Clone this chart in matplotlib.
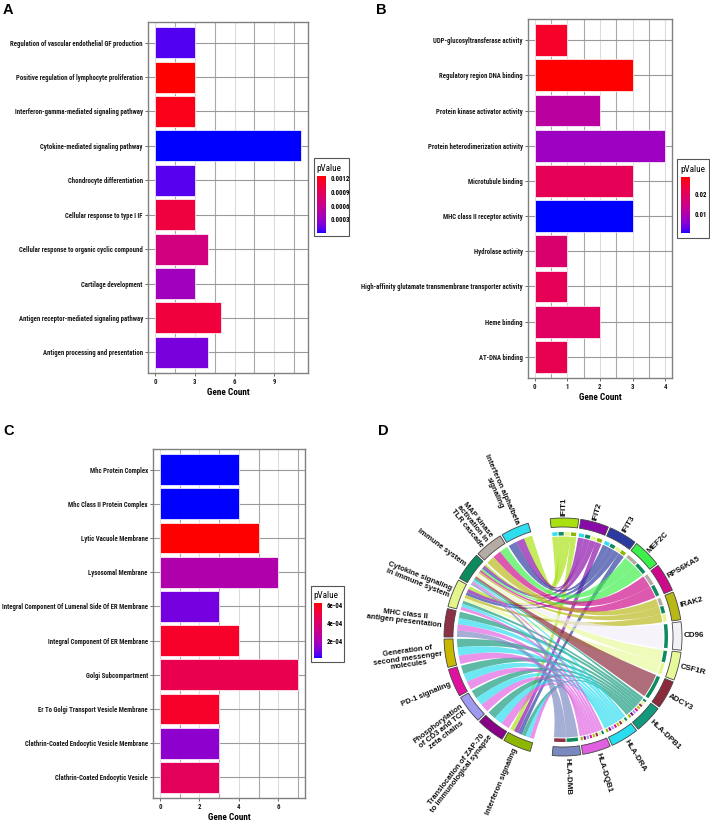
import numpy as np
import matplotlib
matplotlib.use("Agg")
import matplotlib.pyplot as plt
from matplotlib.colors import ListedColormap, Normalize
from matplotlib.patches import Rectangle, PathPatch, Polygon
from matplotlib.path import Path
from matplotlib import font_manager as fm
from matplotlib.font_manager import FontProperties
from matplotlib.textpath import TextPath
from matplotlib.cm import ScalarMappable

# ---------------- data ----------------
a_terms = ["Regulation of vascular endothelial GF production",
           "Positive regulation of lymphocyte proliferation",
           "Interferon-gamma-mediated signaling pathway",
           "Cytokine-mediated signaling pathway",
           "Chondrocyte differentiation",
           "Cellular response to type I IF",
           "Cellular response to organic cyclic compound",
           "Cartilage development",
           "Antigen receptor-mediated signaling pathway",
           "Antigen processing and presentation"]
a_counts = [3, 3, 3, 11, 3, 3, 4, 3, 5, 4]
a_pvals = [0.00008, 0.00124, 0.00118, 0.000005, 0.00009, 0.00102, 0.00068, 0.00035, 0.00103, 0.00018]
a_xticks = [0, 3, 6, 9]
a_cticks = [0.0003, 0.0006, 0.0009, 0.0012]
a_cticklabels = ["0.0003", "0.0006", "0.0009", "0.0012"]

b_terms = ["UDP-glucosyltransferase activity",
           "Regulatory region DNA binding",
           "Protein kinase activator activity",
           "Protein heterodimerization activity",
           "Microtubule binding",
           "MHC class II receptor activity",
           "Hydrolase activity",
           "High-affinity glutamate transmembrane transporter activity",
           "Heme binding",
           "AT-DNA binding"]
b_counts = [1, 3, 2, 4, 3, 3, 1, 1, 2, 1]
b_pvals = [0.0257, 0.0285, 0.0118, 0.0079, 0.0207, 0.0006, 0.0179, 0.0207, 0.0193, 0.0215]
b_xticks = [0, 1, 2, 3, 4]
b_cticks = [0.01, 0.02]
b_cticklabels = ["0.01", "0.02"]

c_terms = ["Mhc Protein Complex",
           "Mhc Class II Protein Complex",
           "Lytic Vacuole Membrane",
           "Lysosomal Membrane",
           "Integral Component Of Lumenal Side Of ER Membrane",
           "Integral Component Of ER Membrane",
           "Golgi Subcompartment",
           "Er To Golgi Transport Vesicle Membrane",
           "Clathrin-Coated Endocytic Vesicle Membrane",
           "Clathrin-Coated Endocytic Vesicle"]
c_counts = [4, 4, 5, 6, 3, 4, 7, 3, 3, 3]
c_pvals = [0.000007, 0.000008, 0.00062, 0.00022, 0.000087, 0.00056, 0.00047, 0.00056, 0.00013, 0.00044]
c_xticks = [0, 2, 4, 6]
c_cticks = [0.0002, 0.0004, 0.0006]
c_cticklabels = ["2e-04", "4e-04", "6e-04"]

# chord diagram
d_genes = ["IFIT1", "IFIT2", "IFIT3", "MEF2C", "RPS6KA5", "IRAK2", "CD96",
           "CSF1R", "ADCY3", "HLA-DPB1", "HLA-DRA", "HLA-DQB1", "HLA-DMB"]
d_gene_colors = ["#A8E010", "#8A0AA8", "#2A3AA0", "#3CF04A", "#CC0A8A", "#B8B818", "#F3F0F8",
                 "#E6FA9A", "#8A2A3A", "#12987A", "#28DDF0", "#E060E0", "#7A88C0"]
d_terms = ["Interferon signaling",
           "Translocation of ZAP-70 to immunological synapse",
           "Phosphorylation of CD3 and TCR zeta chains",
           "PD-1 signaling",
           "Generation of second messenger molecules",
           "MHC class II antigen presentation",
           "Cytokine signaling in immune system",
           "Immune system",
           "MAP kinase activation in TLR cascade",
           "Interferon alpha/beta signaling"]
d_term_labels = ["Interferon signaling",
                 "Translocation of ZAP-70\nto immunological synapse",
                 "Phosphorylation\nof CD3 and TCR\nzeta chains",
                 "PD-1 signaling",
                 "Generation of\nsecond messenger\nmolecules",
                 "MHC class II\nantigen presentation",
                 "Cytokine signaling\nin immune system",
                 "Immune system",
                 "MAP kinase\nactivation in\nTLR cascade",
                 "Interferon alpha/beta\nsignaling"]
d_term_colors = ["#8DB600", "#880088", "#9E9AF0", "#E0119D", "#C9B800",
                 "#8B3045", "#E4F58C", "#0E8A5F", "#B5ABA5", "#2EDDF0"]
HLA_T = ["Interferon signaling", "Translocation of ZAP-70 to immunological synapse",
         "Phosphorylation of CD3 and TCR zeta chains", "PD-1 signaling",
         "Generation of second messenger molecules", "MHC class II antigen presentation",
         "Cytokine signaling in immune system", "Immune system"]
IFIT_T = ["Interferon signaling", "Cytokine signaling in immune system", "Immune system",
          "Interferon alpha/beta signaling"]
MAPK_T = ["Immune system", "MAP kinase activation in TLR cascade"]
d_gene_terms = [IFIT_T, IFIT_T, IFIT_T, MAPK_T, MAPK_T,
                ["Cytokine signaling in immune system", "Immune system", "MAP kinase activation in TLR cascade"],
                ["Immune system"],
                ["Cytokine signaling in immune system", "Immune system"],
                ["Immune system"],
                HLA_T, HLA_T, HLA_T,
                ["MHC class II antigen presentation", "Immune system"]]

# ---------------- fonts ----------------
def _wnum(w):
    if isinstance(w, (int, float)):
        return int(w)
    return fm.weight_dict.get(str(w), 400)

bold_names = {f.name for f in fm.fontManager.ttflist if _wnum(f.weight) >= 700}
NARROW = "Liberation Sans"
for cand in ["Liberation Sans Narrow", "Arial Narrow", "Roboto Condensed", "Archivo Narrow",
             "PT Sans Narrow", "Fira Sans Condensed", "IBM Plex Sans Condensed",
             "Encode Sans Condensed", "Asap Condensed", "Barlow Semi Condensed",
             "Sofia Sans Condensed", "Open Sans Condensed"]:
    if cand in bold_names:
        NARROW = cand
        break
ARIAL = "Liberation Sans"

def fit_size(text, target_px, family, weight):
    tp = TextPath((0, 0), text, size=10, prop=FontProperties(family=family, weight=weight))
    w_px = tp.get_extents().width * 100 / 72
    return 10 * target_px / w_px

LAB_SIZE = fit_size(a_terms[0], 132, NARROW, "bold")
AX_TITLE_SIZE = fit_size("Gene Count", 42, NARROW, "bold")
LEG_TITLE_SIZE = fit_size("pValue", 24, NARROW, "normal")

# ---------------- ggplot-like Lab gradient ----------------
def _srgb_to_lab(rgb):
    c = np.asarray(rgb, float)
    lin = np.where(c <= 0.04045, c / 12.92, ((c + 0.055) / 1.055) ** 2.4)
    M = np.array([[0.4124, 0.3576, 0.1805], [0.2126, 0.7152, 0.0722], [0.0193, 0.1192, 0.9505]])
    xyz = M @ lin / np.array([0.95047, 1.0, 1.08883])
    f = np.where(xyz > 0.008856, np.cbrt(xyz), 7.787 * xyz + 16 / 116)
    return np.array([116 * f[1] - 16, 500 * (f[0] - f[1]), 200 * (f[1] - f[2])])

def _lab_to_srgb(lab):
    L, a, b = lab
    fy_ = (L + 16) / 116
    f = np.array([fy_ + a / 500, fy_, fy_ - b / 200])
    xyz = np.where(f ** 3 > 0.008856, f ** 3, (f - 16 / 116) / 7.787) * np.array([0.95047, 1.0, 1.08883])
    Mi = np.array([[3.2406, -1.5372, -0.4986], [-0.9689, 1.8758, 0.0415], [0.0557, -0.2040, 1.0570]])
    lin = np.clip(Mi @ xyz, 0, 1)
    srgb = np.where(lin <= 0.0031308, 12.92 * lin, 1.055 * lin ** (1 / 2.4) - 0.055)
    return np.clip(srgb, 0, 1)

lo, hi = _srgb_to_lab([0, 0, 1]), _srgb_to_lab([1, 0, 0])
CMAP = ListedColormap([_lab_to_srgb(lo + t * (hi - lo)) for t in np.linspace(0, 1, 256)])

# ---------------- figure ----------------
W, H = 710, 823
fig = plt.figure(figsize=(W / 100, H / 100), dpi=100)
fig.patch.set_facecolor("white")

def fx(px):
    return px / W

def fy(py):
    return 1 - py / H

def bar_panel(box, terms, counts, pvals, xticks, legend_box, cbar_box, cticks, cticklabels):
    l, t, r, b = box
    ax = fig.add_axes([fx(l), fy(b), fx(r) - fx(l), fy(t) - fy(b)])
    n = len(terms)
    ypos = np.arange(n)[::-1]
    norm = Normalize(min(pvals), max(pvals))
    xmax = max(counts)
    ax.set_xlim(-0.05 * xmax, 1.05 * xmax)
    ax.set_ylim(-0.6, n - 0.4)
    step = xticks[1] - xticks[0]
    for xv in xticks + [xticks[-1] + step]:
        ax.axvline(xv, color="#dcdcdc", lw=0.8, zorder=1)
    for xv in np.arange(step / 2, 1.05 * xmax, step):
        ax.axvline(xv, color="#a8a8a8", lw=0.8, zorder=1)
    for yv in ypos:
        ax.axhline(yv, color="#9a9a9a", lw=0.8, zorder=1)
    ax.barh(ypos, counts, height=0.9, color=CMAP(norm(pvals)), edgecolor="white",
            linewidth=0.5, zorder=3)
    ax.set_yticks(ypos)
    ax.set_yticklabels(terms, fontfamily=NARROW, fontweight="bold", fontsize=LAB_SIZE,
                       color="#1a1a1a")
    ax.set_xticks(xticks)
    ax.set_xticklabels([str(v) for v in xticks], fontfamily=NARROW, fontweight="bold",
                       fontsize=LAB_SIZE, color="#1a1a1a")
    ax.tick_params(axis="both", length=2.5, width=0.6, color="#555555", pad=1.2)
    ax.set_xlabel("Gene Count", fontfamily=NARROW, fontweight="bold", fontsize=AX_TITLE_SIZE,
                  labelpad=1.5)
    for s in ax.spines.values():
        s.set_color("#808080")
        s.set_linewidth(1.0)
    # legend
    ll, lt, lr, lb = legend_box
    fig.add_artist(Rectangle((fx(ll), fy(lb)), fx(lr) - fx(ll), fy(lt) - fy(lb),
                             transform=fig.transFigure, fill=False, edgecolor="#555555", lw=0.8))
    cl, ct, cr, cb = cbar_box
    fig.text(fx(cl - 1), fy(ct - 3), "pValue", fontfamily=NARROW, fontsize=LEG_TITLE_SIZE,
             va="bottom", ha="left")
    cax = fig.add_axes([fx(cl), fy(cb), fx(cr) - fx(cl), fy(ct) - fy(cb)])
    cb_ = fig.colorbar(ScalarMappable(norm=norm, cmap=CMAP), cax=cax, ticks=cticks)
    cb_.outline.set_visible(False)
    cb_.set_ticklabels(cticklabels)
    cax.tick_params(length=2, width=0.6, color="white", labelsize=LAB_SIZE, pad=1.5)
    for tl in cax.get_yticklabels():
        tl.set_fontfamily(NARROW)
        tl.set_fontweight("bold")
    return ax

bar_panel((148, 22, 308, 373), a_terms, a_counts, a_pvals, a_xticks,
          (314, 158, 349, 236), (317, 176, 326, 233), a_cticks, a_cticklabels)
bar_panel((528, 19, 672, 378), b_terms, b_counts, b_pvals, b_xticks,
          (677, 159, 709, 238), (681, 177, 690, 233), b_cticks, b_cticklabels)
bar_panel((153, 449, 305, 798), c_terms, c_counts, c_pvals, c_xticks,
          (310.5, 586, 344, 662), (314, 603, 322, 658), c_cticks, c_cticklabels)

for letter, (px, py) in zip("ABCD", [(3, 3), (376, 3), (3, 424), (378, 424)]):
    fig.text(fx(px), fy(py), letter, fontfamily=ARIAL, fontweight="bold", fontsize=10.5,
             va="top", ha="left")

# ---------------- chord diagram ----------------
axd = fig.add_axes([fx(360), fy(823), fx(710) - fx(360), fy(420) - fy(823)])
axd.set_xlim(360, 710)
axd.set_ylim(823, 420)
axd.axis("off")

CX, CY = 563, 637
R_OUT, R_IN = 119, 110
R_GRING_O, R_GRING_I = 105, 101.5
R_GCHORD, R_TCHORD = 100.5, 106
SEC, GAP = 13.8, 1.0
G_START = -6.2
T_START = G_START + len(d_genes) * (SEC + GAP) - GAP + 10.8

def pts(r, ang):
    a = np.deg2rad(ang)
    return np.column_stack([CX + r * np.sin(a), CY - r * np.cos(a)])

def ring(r_in, r_out, a1, a2, color, ec="none", lw=0.0, z=5):
    angs = np.linspace(a1, a2, 40)
    poly = np.vstack([pts(r_out, angs), pts(r_in, angs[::-1])])
    axd.add_patch(Polygon(poly, closed=True, facecolor=color, edgecolor=ec, lw=lw, zorder=z))

gene_start = [G_START + i * (SEC + GAP) for i in range(len(d_genes))]
term_start = [T_START + j * (SEC + GAP) for j in range(len(d_terms))]

links = [(gi, d_terms.index(t)) for gi, ts in enumerate(d_gene_terms) for t in ts]
gene_slot = {}
for gi in range(len(d_genes)):
    tl = sorted([tj for g, tj in links if g == gi], reverse=True)
    w = SEC / len(tl)
    for k, tj in enumerate(tl):
        gene_slot[(gi, tj)] = (gene_start[gi] + k * w, gene_start[gi] + (k + 1) * w)
term_slot = {}
for tj in range(len(d_terms)):
    gl = sorted([g for g, t in links if t == tj], reverse=True)
    w = SEC / len(gl)
    for k, gi in enumerate(gl):
        term_slot[(gi, tj)] = (term_start[tj] + k * w, term_start[tj] + (k + 1) * w)

def ribbon(t1, t2, g1, g2, color):
    A = pts(R_TCHORD, np.linspace(t1, t2, 20))
    B = pts(R_GCHORD, np.linspace(g1, g2, 20))
    verts = list(A) + [(CX, CY), B[0]] + list(B[1:]) + [(CX, CY), A[0], A[0]]
    codes = ([Path.MOVETO] + [Path.LINETO] * (len(A) - 1) + [Path.CURVE3, Path.CURVE3]
             + [Path.LINETO] * (len(B) - 1) + [Path.CURVE3, Path.CURVE3, Path.CLOSEPOLY])
    axd.add_patch(PathPatch(Path(verts, codes), facecolor=color, edgecolor="none",
                            alpha=0.68, zorder=2))

for gi, tj in links:
    t1, t2 = term_slot[(gi, tj)]
    g1, g2 = gene_slot[(gi, tj)]
    ribbon(t1, t2, g1, g2, d_gene_colors[gi])

for (gi, tj), (g1, g2) in gene_slot.items():
    ring(R_GRING_I, R_GRING_O, g1 + 0.3, g2 - 0.3, d_term_colors[tj])

for gi, g in enumerate(d_genes):
    a1 = gene_start[gi]
    ring(R_IN, R_OUT, a1, a1 + SEC, d_gene_colors[gi], ec="#444444", lw=0.6)
    mid = a1 + SEC / 2
    p = pts(R_OUT + 2, mid)[0]
    th = np.deg2rad(mid)
    rot = np.degrees(np.arctan2(np.cos(th), np.sin(th)))
    axd.text(p[0], p[1], g, rotation=rot, rotation_mode="anchor", ha="left", va="center",
             fontfamily=ARIAL, fontweight="bold", fontsize=5.8, color="#111111")

for tj, lab in enumerate(d_term_labels):
    a1 = term_start[tj]
    ring(R_IN, R_OUT, a1, a1 + SEC, d_term_colors[tj], ec="#444444", lw=0.6)
    mid = a1 + SEC / 2
    p = pts(R_OUT + 2.5, mid)[0]
    th = np.deg2rad(mid)
    rot = np.degrees(np.arctan2(-np.cos(th), -np.sin(th)))
    axd.text(p[0], p[1], lab, rotation=rot, rotation_mode="anchor", ha="right", va="center",
             multialignment="center", fontfamily=ARIAL, fontweight="bold", fontsize=5.5,
             color="#111111", linespacing=1.0)

fig.savefig("out.png", dpi=100, facecolor="white")
